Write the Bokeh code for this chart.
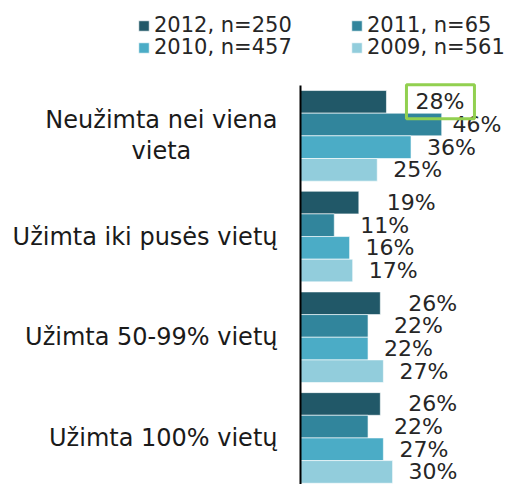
from bokeh.plotting import figure
from bokeh.models import Range1d, Legend, LegendItem, ColumnDataSource
from bokeh.core.properties import value
from bokeh.embed import file_html
from bokeh.resources import INLINE

# ---- data ----
categories = ["Neužimta nei viena\nvieta", "Užimta iki pusės vietų",
              "Užimta 50-99% vietų", "Užimta 100% vietų"]
series = ["2012, n=250", "2011, n=65", "2010, n=457", "2009, n=561"]
v2012 = [28, 19, 26, 26]
v2011 = [46, 11, 22, 22]
v2010 = [36, 16, 22, 27]
v2009 = [25, 17, 27, 30]
values = [v2012, v2011, v2010, v2009]
highlight = (0, 0)  # (category index, series index) of the boxed label

# ---- style / layout ----
colors = ["#215868", "#31859C", "#4BACC6", "#92CDDC"]
label_off = [28, 26, 16, 16]
HL_TEXT_OFF = 29
BOX_W, BOX_H, BOX_CX = 68, 34, 54   # box size and centre offset, px
FONT = "DejaVu Sans"
TXT = "#262626"

W, H = 510, 484
AXIS_X = 300          # px of value 0
PPU = 3.07            # px per percent
GROUP_PX = 100.7      # px per category
GROUP_TOP = 85        # px of top of first category band
LABEL_W = 58

n = len(categories)
x_start = -AXIS_X / PPU
x_end = (W - AXIS_X) / PPU
y_end = (n - 0.5) + GROUP_TOP / GROUP_PX
y_start = y_end - H / GROUP_PX

p = figure(width=W, height=H, x_range=Range1d(x_start, x_end),
           y_range=Range1d(y_start, y_end),
           output_backend="svg", toolbar_location=None,
           min_border=0)
p.axis.visible = False
p.grid.visible = False
p.outline_line_color = None
p.border_fill_color = "white"

pos = [n - 1 - j for j in range(n)]   # top category highest
ns = len(series)
bh = 0.9 / ns
dodges = [0.45 - bh * (i + 0.5) for i in range(ns)]

bars = []
label_sources = []
for i, vals in enumerate(values):
    ys = [pos[j] + dodges[i] for j in range(n)]
    src = ColumnDataSource(dict(y=ys, val=vals))
    r = p.hbar(y="y", left=0, right="val", height=bh, fill_color=colors[i],
               line_color="white", line_width=0.6, source=src)
    bars.append(r)

    yy, vs, lbls, offs = [], [], [], []
    for j, v in enumerate(vals):
        room = (x_end - v) * PPU - LABEL_W
        yy.append(ys[j]); vs.append(v); lbls.append(f"{v}%")
        offs.append(HL_TEXT_OFF if (j, i) == highlight else min(label_off[i], room))
    label_sources.append(ColumnDataSource(dict(y=yy, val=vs, lbl=lbls, xoff=offs)))

for lsrc in label_sources:
    p.text(x="val", y="y", text="lbl", x_offset="xoff", text_align="left",
           text_baseline="middle", text_font=value(FONT), text_font_size="22px",
           text_color=TXT, source=lsrc)

# highlight box around one label
hj, hi = highlight
hv = values[hi][hj]
p.rect(x=[hv + BOX_CX / PPU], y=[pos[hj] + dodges[hi]], width=BOX_W, height=BOX_H,
       width_units="screen", height_units="screen", fill_color=None,
       line_color="#92D050", line_width=3)

# category axis: line + labels
p.segment(x0=[0], x1=[0], y0=[-0.5], y1=[n - 0.5], line_color="black", line_width=2)
csrc = ColumnDataSource(dict(y=pos, lbl=categories))
p.text(x=0, y="y", text="lbl", x_offset=-23, text_align="center",
       anchor=value("center_right"),
       text_baseline="middle", text_font=value(FONT), text_font_size="24px",
       text_color="#1a1a1a", line_height=1.1, source=csrc)

# legends (two rows)
def make_legend(idx, vy):
    leg = Legend(items=[LegendItem(label=series[k], renderers=[bars[k]]) for k in idx],
                 orientation="horizontal", location=(137, vy),
                 padding=0, margin=0, spacing=0, label_width=196,
                 glyph_width=13, glyph_height=13, label_standoff=4,
                 border_line_color=None, background_fill_alpha=0,
                 label_text_font_size="21px", label_text_font=FONT,
                 label_text_color=TXT, label_height=22)
    p.add_layout(leg)

make_legend([0, 1], H - 37)
make_legend([2, 3], H - 59)

open("out.html", "w").write(file_html(p, INLINE))
